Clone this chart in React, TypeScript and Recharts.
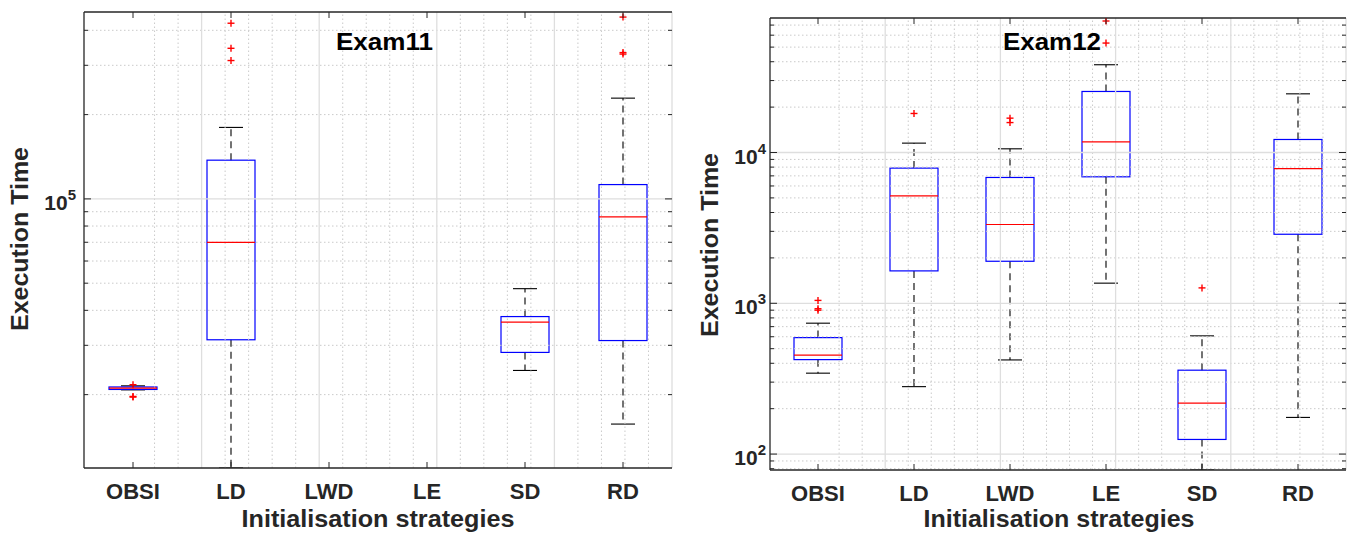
import { Bar, ComposedChart, ReferenceLine, Scatter, XAxis, YAxis } from 'recharts';

const categories = ['OBSI', 'LD', 'LWD', 'LE', 'SD', 'RD'];

// Exam11 box statistics (execution time), null where nothing is drawn
const exam11Lower = [2.08e4, 1.094e4, null, null, 2.44e4, 1.57e4];
const exam11Q1 = [2.087e4, 3.14e4, null, null, 2.83e4, 3.12e4];
const exam11Median = [2.11e4, 7.0e4, null, null, 3.63e4, 8.63e4];
const exam11Q3 = [2.13e4, 1.375e5, null, null, 3.8e4, 1.125e5];
const exam11Upper = [2.15e4, 1.8e5, null, null, 4.78e4, 2.29e5];
const exam11Outliers = [[2.17e4, 1.96e4, 1.97e4], [4.24e5, 3.45e5, 3.12e5], [], [], [], [4.46e5, 3.33e5, 3.29e5]];

// Exam12
const exam12Lower = [344, 280, 421, 1360, 78.4, 175];
const exam12Q1 = [423, 1640, 1900, 6900, 125, 2870];
const exam12Median = [453, 5160, 3330, 11780, 218, 7830];
const exam12Q3 = [592, 7880, 6830, 25400, 360, 12200];
const exam12Upper = [738, 11540, 10580, 38200, 608, 24500];
const exam12Outliers = [[1045, 920, 900], [18150], [16900, 15800], [74500, 53200], [1265], []];

// axis limits and ticks
const exam11Domain = [1.094e4, 4.65e5];
const exam12Domain = [78.4, 7.8e4];
const exam11Decades = [1e5];
const exam11Minor = [2e4, 3e4, 4e4, 5e4, 6e4, 7e4, 8e4, 9e4, 2e5, 3e5, 4e5];
const exam12Decades = [1e2, 1e3, 1e4];
const exam12Minor = [
  80, 90, 200, 300, 400, 500, 600, 700, 800, 900, 2000, 3000, 4000, 5000, 6000, 7000, 8000, 9000,
  2e4, 3e4, 4e4, 5e4, 6e4, 7e4,
];
const xMajor = [1, 2, 3, 4, 5, 6];
const xMinor = xMajor.flatMap((c) => [c - 0.4, c - 0.2, c + 0.2, c + 0.4]);

const FONT = '"Liberation Sans", Arial, Helvetica, sans-serif';
const AXIS = '#262626';
const BOX = 48;
const CAP = 12;

type Row = {
  name: string;
  lo: number | null;
  q1: number | null;
  med: number | null;
  q3: number | null;
  hi: number | null;
  o1: number | null;
  o2: number | null;
  o3: number | null;
};

function buildRows(lo: any[], q1: any[], med: any[], q3: any[], hi: any[], out: number[][]): Row[] {
  return categories.map((name, i) => ({
    name,
    lo: lo[i],
    q1: q1[i],
    med: med[i],
    q3: q3[i],
    hi: hi[i],
    o1: out[i][0] ?? null,
    o2: out[i][1] ?? null,
    o3: out[i][2] ?? null,
  }));
}

function UpperWhisker(p: any) {
  if (p.payload == null || p.payload.q3 == null) return <g />;
  const cx = p.x + p.width / 2;
  return (
    <g>
      <line x1={cx} x2={cx} y1={p.y + p.height} y2={p.y} stroke="#000" strokeWidth={1.1} strokeDasharray="7 5" />
      <line x1={cx - CAP} x2={cx + CAP} y1={p.y} y2={p.y} stroke="#000" strokeWidth={1.1} />
    </g>
  );
}

function LowerWhisker(p: any) {
  if (p.payload == null || p.payload.q1 == null) return <g />;
  const cx = p.x + p.width / 2;
  const yb = p.y + p.height;
  return (
    <g>
      <line x1={cx} x2={cx} y1={p.y} y2={yb} stroke="#000" strokeWidth={1.1} strokeDasharray="7 5" />
      <line x1={cx - CAP} x2={cx + CAP} y1={yb} y2={yb} stroke="#000" strokeWidth={1.1} />
    </g>
  );
}

function BoxShape(p: any) {
  if (p.payload == null || p.payload.q1 == null) return <g />;
  return <rect x={p.x} y={p.y} width={p.width} height={Math.max(p.height, 1)} fill="none" stroke="#0000ff" strokeWidth={1.2} />;
}

function MedianShape(p: any) {
  if (p.payload == null || p.payload.med == null) return <g />;
  return <line x1={p.cx - BOX / 2} x2={p.cx + BOX / 2} y1={p.cy} y2={p.cy} stroke="#ff0000" strokeWidth={1.2} />;
}

const outlierShape = (key: 'o1' | 'o2' | 'o3') => (p: any) => {
  if (p.payload == null || p.payload[key] == null) return <g />;
  return (
    <g stroke="#ff0000" strokeWidth={1.4}>
      <line x1={p.cx - 3.5} x2={p.cx + 3.5} y1={p.cy} y2={p.cy} />
      <line x1={p.cx} x2={p.cx} y1={p.cy - 3.5} y2={p.cy + 3.5} />
    </g>
  );
};

type PanelProps = {
  rows: Row[];
  domain: number[];
  decades: number[];
  minor: number[];
  width: number;
  margin: { top: number; right: number; bottom: number; left: number };
  labelGap: number;
};

function Panel({ rows, domain, decades, minor, width, margin, labelGap }: PanelProps) {
  const height = 537;
  const plotLeft = margin.left + 60;
  const plotRight = width - margin.right;
  const plotTop = margin.top;
  const plotBottom = height - margin.bottom - 30;

  const yTick = (props: any) => {
    const v = props.payload.value;
    const e = Math.log10(v);
    const major = Math.abs(e - Math.round(e)) < 1e-6;
    const len = major ? 7 : 4;
    return (
      <g>
        <line x1={plotLeft} x2={plotLeft + len} y1={props.y} y2={props.y} stroke={AXIS} />
        <line x1={plotRight - len} x2={plotRight} y1={props.y} y2={props.y} stroke={AXIS} />
        {major && (
          <text x={plotLeft - labelGap} y={props.y + 11} textAnchor="end" fill={AXIS} fontFamily={FONT} fontWeight="bold" fontSize={21}>
            10
            <tspan dy={-10} fontSize={15}>
              {Math.round(e)}
            </tspan>
          </text>
        )}
      </g>
    );
  };

  const xTick = (props: any) => (
    <g>
      <line x1={props.x} x2={props.x} y1={plotBottom - 6} y2={plotBottom} stroke={AXIS} />
      <line x1={props.x} x2={props.x} y1={plotTop} y2={plotTop + 6} stroke={AXIS} />
      <text x={props.x} y={plotBottom + 31} textAnchor="middle" fill={AXIS} fontFamily={FONT} fontWeight="bold" fontSize={22}>
        {props.payload.value}
      </text>
    </g>
  );

  return (
    <ComposedChart width={width} height={height} data={rows} margin={margin} barGap={-BOX}>
      <XAxis dataKey="name" interval={0} height={30} tickLine={false} axisLine={{ stroke: AXIS, strokeWidth: 1.3 }} tick={xTick} />
      <XAxis xAxisId="n" type="number" domain={[0.5, 6.5]} allowDataOverflow hide />
      <YAxis
        type="number"
        scale="log"
        domain={domain}
        allowDataOverflow
        width={60}
        ticks={[...decades, ...minor]}
        interval={0}
        tickLine={false}
        axisLine={{ stroke: AXIS, strokeWidth: 1.3 }}
        tick={yTick}
      />
      {minor.map((v) => (
        <ReferenceLine key={'hm' + v} y={v} stroke="#cacaca" strokeDasharray="1.5 2.5" />
      ))}
      {xMinor.map((v) => (
        <ReferenceLine key={'vm' + v} xAxisId="n" x={v} stroke="#cacaca" strokeDasharray="1.5 2.5" />
      ))}
      {decades.map((v) => (
        <ReferenceLine key={'hd' + v} y={v} stroke="#dedede" strokeWidth={1.3} />
      ))}
      {xMajor.map((v) => (
        <ReferenceLine key={'vd' + v} xAxisId="n" x={v} stroke="#dedede" strokeWidth={1.3} />
      ))}
      <ReferenceLine y={domain[1]} stroke={AXIS} strokeWidth={1.3} />
      <ReferenceLine xAxisId="n" x={6.5} stroke={AXIS} strokeWidth={1.3} />
      <Bar dataKey={(d: Row) => (d.q3 == null ? null : [d.q3, d.hi])} barSize={BOX} shape={UpperWhisker} isAnimationActive={false} />
      <Bar dataKey={(d: Row) => (d.q1 == null ? null : [d.lo, d.q1])} barSize={BOX} shape={LowerWhisker} isAnimationActive={false} />
      <Bar dataKey={(d: Row) => (d.q1 == null ? null : [d.q1, d.q3])} barSize={BOX} shape={BoxShape} isAnimationActive={false} />
      <Scatter dataKey="med" shape={MedianShape} isAnimationActive={false} />
      <Scatter dataKey="o1" shape={outlierShape('o1')} isAnimationActive={false} />
      <Scatter dataKey="o2" shape={outlierShape('o2')} isAnimationActive={false} />
      <Scatter dataKey="o3" shape={outlierShape('o3')} isAnimationActive={false} />
    </ComposedChart>
  );
}

const exam11Rows = buildRows(exam11Lower, exam11Q1, exam11Median, exam11Q3, exam11Upper, exam11Outliers);
const exam12Rows = buildRows(exam12Lower, exam12Q1, exam12Median, exam12Q3, exam12Upper, exam12Outliers);

export default function App() {
  const label = { fontFamily: FONT, fontWeight: 'bold' as const, fill: '#000' };
  return (
    <div style={{ position: 'absolute', left: 0, top: 0, width: 1347, height: 537, background: '#fff', fontFamily: FONT }}>
      <div style={{ position: 'absolute', left: 0, top: 0 }}>
        <Panel
          rows={exam11Rows}
          domain={exam11Domain}
          decades={exam11Decades}
          minor={exam11Minor}
          width={680}
          margin={{ top: 12, right: 8, bottom: 39, left: 24 }}
          labelGap={8}
        />
      </div>
      <div style={{ position: 'absolute', left: 680, top: 0 }}>
        <Panel
          rows={exam12Rows}
          domain={exam12Domain}
          decades={exam12Decades}
          minor={exam12Minor}
          width={667}
          margin={{ top: 18, right: 1, bottom: 37, left: 30 }}
          labelGap={4}
        />
      </div>
      <svg width={1347} height={537} style={{ position: 'absolute', left: 0, top: 0, pointerEvents: 'none' }}>
        <text x={384.5} y={50} textAnchor="middle" fontSize={24} textLength={97} lengthAdjust="spacingAndGlyphs" {...label}>
          Exam11
        </text>
        <text x={1052} y={50} textAnchor="middle" fontSize={24} textLength={98} lengthAdjust="spacingAndGlyphs" {...label}>
          Exam12
        </text>
        <text transform="translate(28,239) rotate(-90)" textAnchor="middle" fontSize={23} textLength={184} lengthAdjust="spacingAndGlyphs" {...label} fill={AXIS}>
          Execution Time
        </text>
        <text transform="translate(718,245) rotate(-90)" textAnchor="middle" fontSize={23} textLength={184} lengthAdjust="spacingAndGlyphs" {...label} fill={AXIS}>
          Execution Time
        </text>
        <text x={378} y={527} textAnchor="middle" fontSize={24} textLength={273} lengthAdjust="spacingAndGlyphs" {...label} fill={AXIS}>
          Initialisation strategies
        </text>
        <text x={1059} y={527} textAnchor="middle" fontSize={24} textLength={271} lengthAdjust="spacingAndGlyphs" {...label} fill={AXIS}>
          Initialisation strategies
        </text>
      </svg>
    </div>
  );
}
